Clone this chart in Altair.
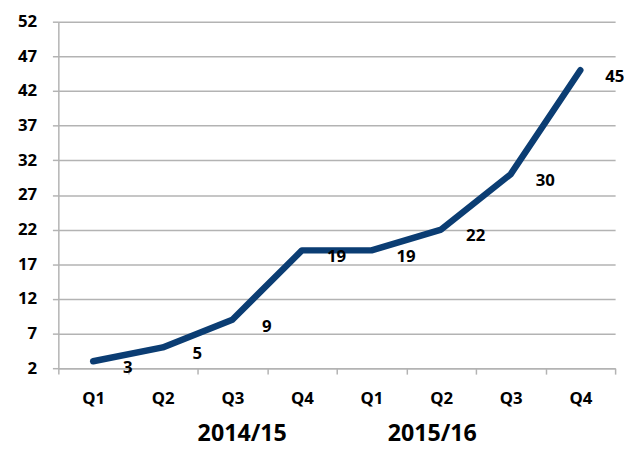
import altair as alt
import pandas as pd

quarters = ["Q1", "Q2", "Q3", "Q4", "Q1", "Q2", "Q3", "Q4"]
years = ["2014/15"] * 4 + ["2015/16"] * 4
values = [3, 5, 9, 19, 19, 22, 30, 45]
y_ticks = [2, 7, 12, 17, 22, 27, 32, 37, 42, 47, 52]

keys = [f"{q}|{y}" for q, y in zip(quarters, years)]
df = pd.DataFrame({"key": keys, "value": values})

W, H = 564, 351
FONT = "Noto Sans"
LBL = 17

x = alt.X("key:N", sort=keys, title=None,
          scale=alt.Scale(paddingInner=0, paddingOuter=0),
          axis=alt.Axis(labelExpr="split(datum.label, '|')[0]", labelAngle=0,
                        tickBand="extent", grid=False, labelPadding=17))
y = alt.Y("value:Q", title=None,
          scale=alt.Scale(domain=[2, 52], nice=False, zero=False),
          axis=alt.Axis(values=y_ticks, labelPadding=16))

base = alt.Chart(df)
line = base.mark_line(color="#0b3d73", strokeWidth=6.5, strokeCap="round",
                      strokeJoin="round").encode(x=x, y=y)
labels = base.mark_text(font=FONT, fontSize=LBL, fontWeight="bold", color="#000",
                        dx=35, dy=7, baseline="middle").encode(
    x=x, y=y, text="value:Q")

grp1 = alt.Chart(pd.DataFrame({"key": [keys[2]], "t": [years[0]]})).mark_text(
    font=FONT, fontSize=23.5, fontWeight="bold", color="#000", dx=10, baseline="middle"
).encode(x=x, y=alt.value(H + 67), text="t:N")
grp2 = alt.Chart(pd.DataFrame({"key": [keys[5]], "t": [years[4]]})).mark_text(
    font=FONT, fontSize=23.5, fontWeight="bold", color="#000", dx=-9, baseline="middle"
).encode(x=x, y=alt.value(H + 67), text="t:N")

chart = alt.layer(line, labels, grp1, grp2).properties(
    width=W, height=H,
    autosize=alt.AutoSizeParams(type="none"),
    padding={"left": 51, "top": 11, "right": 9, "bottom": 81},
).configure(background="white").configure_view(
    strokeWidth=0
).configure_axis(
    gridColor="#b3b3b3", gridWidth=1.5, domainColor="#b3b3b3", domainWidth=1.5,
    tickColor="#b3b3b3", tickWidth=1.5, tickSize=6, labelFont=FONT,
    labelFontSize=LBL, labelFontWeight="bold", labelColor="#000", labelOverlap=False
)

chart.save("out.html", embed_options={"renderer": "svg", "actions": False})
